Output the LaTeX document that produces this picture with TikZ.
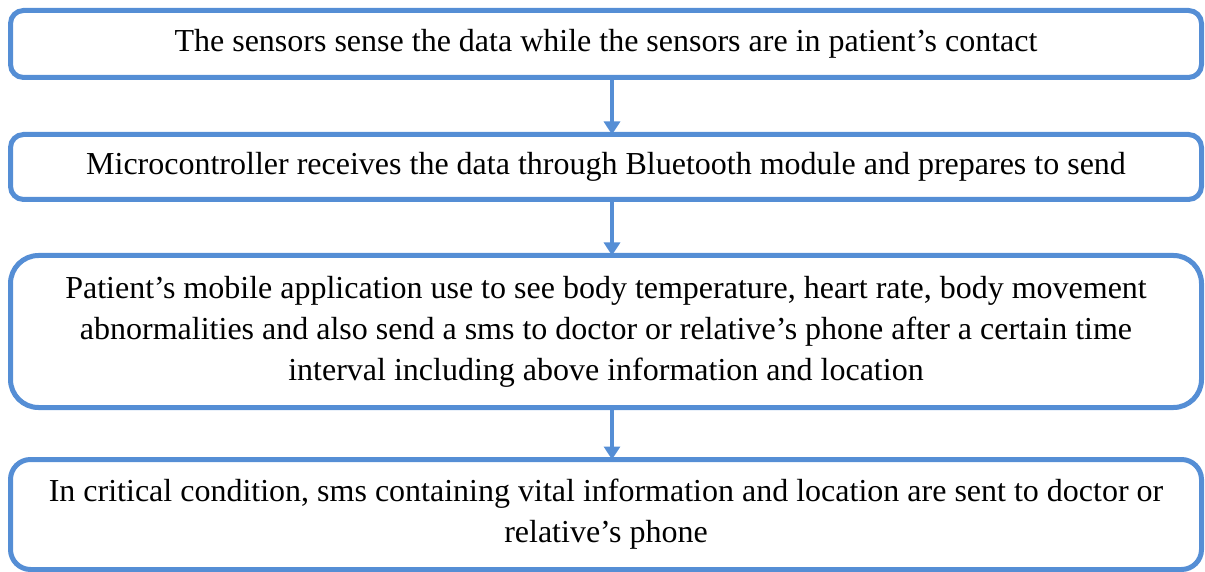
\documentclass[tikz,border=0pt]{standalone}
\usepackage{fontspec}
\setmainfont{Liberation Serif}
\usetikzlibrary{arrows.meta}
\definecolor{flowblue}{RGB}{85,142,213}
\tikzset{
  flowbox/.style={draw=flowblue, line width=5pt, rounded corners=13pt, inner sep=0pt, outer sep=0pt,
    minimum width=1191pt, align=center, font=\fontsize{32}{41}\selectfont, text=black},
  flowarrow/.style={draw=flowblue, line width=4pt, -{Triangle[length=13pt,width=16pt]}}
}
\begin{document}
\begin{tikzpicture}[x=1pt,y=-1pt]
\useasboundingbox (0,0) rectangle (1205,572);
\coordinate (ax) at (612,0);
\node[flowbox, minimum height=67pt] (b1) at (606,44) {The sensors sense the data while the sensors are in patient’s contact};
\node[flowbox, minimum height=65pt] (b2) at (606,167) {Microcontroller receives the data through Bluetooth module and prepares to send};
\node[flowbox, minimum height=152pt, rounded corners=28pt] (b3) at (606,331.5) {Patient’s mobile application use to see body temperature, heart rate, body movement\\abnormalities and also send a sms to doctor or relative’s phone after a certain time\\interval including above information and location};
\node[flowbox, minimum height=110pt, rounded corners=20pt] (b4) at (606,514.5) {In critical condition, sms containing vital information and location are sent to doctor or\\relative’s phone};
\draw[flowarrow] (b1.south -| ax) -- (b2.north -| ax);
\draw[flowarrow] (b2.south -| ax) -- (b3.north -| ax);
\draw[flowarrow] (b3.south -| ax) -- (b4.north -| ax);
\end{tikzpicture}
\end{document}
